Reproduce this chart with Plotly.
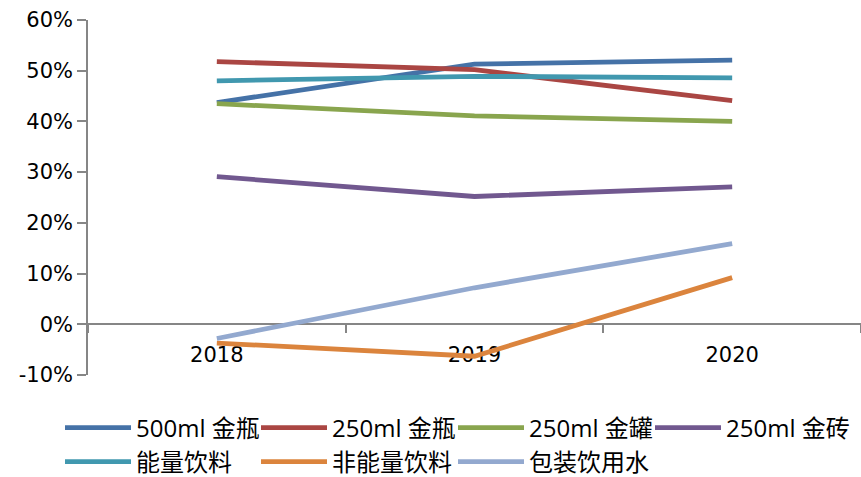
import plotly.graph_objects as go

# Year-on-year growth by product line
years = ["2018", "2019", "2020"]
series_names = ["500ml 金瓶", "250ml 金瓶", "250ml 金罐", "250ml 金砖",
                "能量饮料", "非能量饮料", "包装饮用水"]
s_500_bottle = [0.437, 0.513, 0.521]
s_250_bottle = [0.518, 0.502, 0.441]
s_250_can = [0.435, 0.411, 0.400]
s_250_brick = [0.291, 0.252, 0.271]
s_energy = [0.480, 0.489, 0.486]
s_non_energy = [-0.037, -0.063, 0.092]
s_water = [-0.028, 0.072, 0.159]
series_values = [s_500_bottle, s_250_bottle, s_250_can, s_250_brick,
                 s_energy, s_non_energy, s_water]

y_tickvals = [-0.1, 0, 0.1, 0.2, 0.3, 0.4, 0.5, 0.6]
y_ticktext = ["-10%", "0%", "10%", "20%", "30%", "40%", "50%", "60%"]

colors = ["#4572A7", "#AA4643", "#89A54E", "#71588F",
          "#4198AF", "#DB843D", "#93A9CF"]

TICK_FONT = dict(family="DejaVu Sans, sans-serif", size=21, color="#000000")
LEGEND_FONT = dict(family="Open Sans, Noto Sans CJK SC, sans-serif",
                   size=24, color="#000000")
AXIS = "#868686"

# one single-entry legend per series, laid out on a fixed grid (4 + 3)
legend_ids = ["legend"] + [f"legend{i}" for i in range(2, 8)]
legend_left = [60, 256, 453, 650, 60, 256, 453]
legend_mid = [428, 428, 428, 428, 462, 462, 462]

fig = go.Figure()
for i, (name, vals) in enumerate(zip(series_names, series_values)):
    fig.add_trace(go.Scatter(
        x=years, y=vals, name=name, mode="lines",
        line=dict(color=colors[i], width=4.8),
        legend=legend_ids[i],
    ))

legend_layout = {}
for lid, lx, ly in zip(legend_ids, legend_left, legend_mid):
    legend_layout[lid] = dict(
        orientation="h", xref="container", yref="container",
        x=lx / 861, y=1 - ly / 477, xanchor="left", yanchor="middle",
        itemwidth=66, font=LEGEND_FONT,
        bgcolor="rgba(0,0,0,0)", itemclick=False, itemdoubleclick=False,
    )

fig.update_layout(
    width=861, height=477,
    margin=dict(l=88, r=0, t=20, b=102, autoexpand=False),
    paper_bgcolor="white", plot_bgcolor="white",
    font=TICK_FONT,
    xaxis=dict(
        type="category", range=[-0.5, 2.5],
        anchor="free", position=1 / 7,
        showline=True, linecolor=AXIS, linewidth=1.5,
        ticks="outside", tickson="boundaries", ticklen=8,
        tickcolor=AXIS, tickwidth=1.5, ticklabelstandoff=12,
        showgrid=False, zeroline=False, layer="below traces",
        tickfont=TICK_FONT,
    ),
    yaxis=dict(
        range=[-0.1, 0.6], tickvals=y_tickvals, ticktext=y_ticktext,
        showline=True, linecolor=AXIS, linewidth=1.5,
        ticks="outside", ticklen=9, tickcolor=AXIS, tickwidth=1.5,
        showgrid=False, zeroline=False, layer="below traces",
        tickfont=TICK_FONT,
    ),
    showlegend=True,
    **legend_layout,
)

fig.write_html("out.html")
